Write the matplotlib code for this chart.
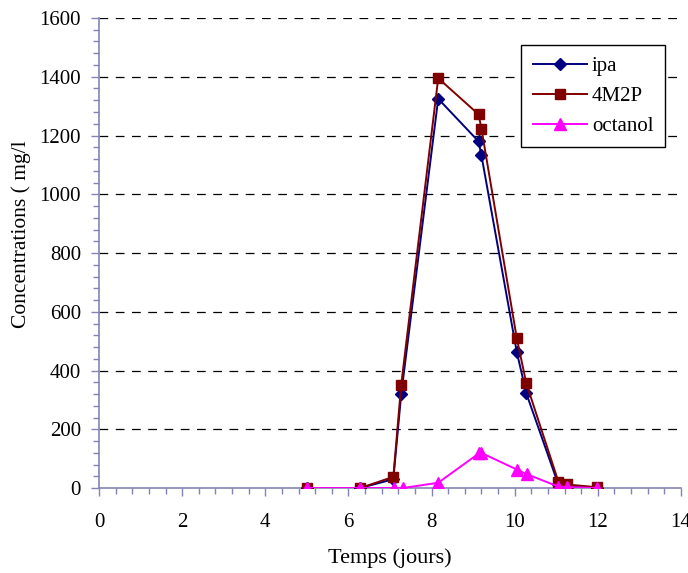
import matplotlib
matplotlib.use("Agg")
import matplotlib.pyplot as plt
from matplotlib.ticker import MultipleLocator

plt.rcParams['font.family'] = ['Liberation Serif', 'DejaVu Serif']

# données
temps = [5.0, 6.28, 7.08, 7.27, 8.16, 9.13, 9.2, 10.05, 10.28, 11.05, 11.25, 11.97]
ipa = [0, 0, 30, 320, 1325, 1180, 1132, 463, 322, 12, 5, 0]
m4m2p = [0, 0, 38, 352, 1395, 1272, 1223, 510, 356, 22, 12, 3]

temps_oct = [5.0, 6.28, 7.10, 7.31, 8.16, 9.14, 9.19, 10.05, 10.29, 11.05, 11.25, 11.97]
octanol = [0, 0, 0, 0, 18, 118, 120, 63, 47, 5, 3, 0]

axis_col = '#8484b4'

fig = plt.figure(figsize=(6.88, 5.73), dpi=100)
ax = fig.add_axes([0.1439, 0.1483, 0.8459, 0.8203])

ax.plot(temps, ipa, color='#000080', lw=1.4, marker='D', ms=6.5, mfc='#000080', mec='#000080', label='ipa', zorder=3)
ax.plot(temps, m4m2p, color='#800000', lw=1.4, marker='s', ms=7, mfc='#800000', mec='#800000', label='4M2P', zorder=3)
ax.plot(temps_oct, octanol, color='#ff00ff', lw=1.4, marker='^', ms=8, mfc='#ff00ff', mec='#ff00ff', label='octanol', zorder=3)

ax.set_xlim(0, 14)
ax.set_ylim(0, 1600)
ax.xaxis.set_major_locator(MultipleLocator(2))
ax.xaxis.set_minor_locator(MultipleLocator(0.4))
ax.yaxis.set_major_locator(MultipleLocator(200))
ax.yaxis.set_minor_locator(MultipleLocator(40))

for y in range(200, 1601, 200):
    ax.axhline(y, color='black', lw=0.9, dashes=(7, 6), zorder=1)

ax.spines['top'].set_visible(False)
ax.spines['right'].set_visible(False)
for s in ('left', 'bottom'):
    ax.spines[s].set_color(axis_col)
    ax.spines[s].set_linewidth(1.2)
    ax.spines[s].set_zorder(2)

ax.tick_params(axis='both', which='major', direction='out', length=6, width=1, color=axis_col, labelsize=15)
ax.tick_params(axis='both', which='minor', direction='out', length=4, width=1, color=axis_col)
ax.tick_params(axis='x', which='major', pad=12)
ax.tick_params(axis='y', which='major', pad=7)

ax.set_xlabel('Temps (jours)', fontsize=16, labelpad=12)
ax.set_ylabel('Concentrations ( mg/l', fontsize=15.5)
ax.yaxis.set_label_coords(-0.116, 0.54)

leg = ax.legend(loc='upper right', bbox_to_anchor=(0.9725, 0.9426), borderaxespad=0, fontsize=15,
                frameon=True, fancybox=False, edgecolor='black', framealpha=1, handlelength=2.6,
                borderpad=0.55, labelspacing=0.5, handletextpad=0.25)
leg.get_frame().set_linewidth(1.0)

fig.savefig('out.png', dpi=100)
